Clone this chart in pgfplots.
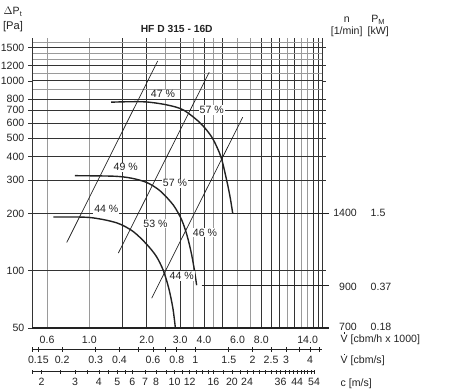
\documentclass[border=0pt]{standalone}
\usepackage{pgfplots}
\pgfplotsset{compat=1.18}
\usepackage{fontspec}
\setmainfont{Liberation Sans}
\definecolor{gridDark}{HTML}{333333}
\definecolor{gridGray}{HTML}{9A9A9A}
\definecolor{ink}{HTML}{222222}
\newcommand{\Vdot}{\makebox[0pt][l]{\hspace{0.27em}\smash{\raisebox{0.8em}{\rule{0.13em}{0.13em}}}}V}
\begin{document}
\fontsize{10.6}{12}\selectfont
\begin{tikzpicture}
\useasboundingbox (-32bp,-61bp) rectangle (428bp,328bp);
\begin{axis}[
  at={(0,0)}, anchor=south west,
  scale only axis, width=290bp, height=290bp,
  xmode=log, ymode=log,
  xmin=0.5, xmax=16.66, ymin=50, ymax=1683,
  axis line style={draw=none},
  clip=false,
  /pgf/number format/assume math mode=true,
  tick label style={font=\fontsize{10.6}{12}\selectfont, text=ink},
  xtick={1.5,2,3,4,5,8,9,10,12,15,16},
  xticklabels={},
  minor xtick={0.6,1,2.5,3.5,4.5,6,7,11,13,14},
  extra x ticks={0.6,1,2,3,4,6,8,14},
  extra x tick labels={0.6,1.0,2.0,3.0,4.0,6.0,8.0,14.0},
  extra x tick style={grid=none, major tick length=0pt},
  x tick style={draw=none},
  minor x tick style={draw=none},
  xticklabel style={yshift=-4.5bp},
  ytick={50,100,200,300,400,500,600,700,800,1000,1200,1500},
  yticklabels={50,100,200,300,400,500,600,700,800,1000,1200,1500},
  minor ytick={900,1100,1300,1400,1600},
  y tick style={gridDark, line width=0.8pt},
  minor y tick style={draw=none},
  tick align=outside,
  major tick length=4bp,
  grid=both,
  major grid style={gridDark, line width=0.85pt},
  minor grid style={gridGray, line width=0.85pt},
]
% frame lines
\draw[gridDark, line width=0.9pt] (rel axis cs:0,0) -- (rel axis cs:0,1);
\draw[gridDark, line width=0.9pt] (rel axis cs:1,0) -- (rel axis cs:1,1);
\addplot[ink, line width=1.6pt] coordinates {(0.5,50) (18.1,50)};

% efficiency lines
\addplot[ink, line width=0.7pt] coordinates {(0.761,141) (2.286,1274)};
\addplot[ink, line width=0.7pt] coordinates {(1.42,124) (4.26,1111)};
\addplot[ink, line width=0.7pt] coordinates {(2.126,71.8) (6.39,644)};

% fan curves
\addplot[ink, line width=1.4pt, smooth] coordinates {
 (1.30,773) (1.6,777) (2.0,775) (2.55,748) (3.11,704) (3.81,602)
 (4.40,505) (4.90,400) (5.23,308) (5.47,248) (5.66,201)};
\addplot[ink, line width=1.4pt, smooth] coordinates {
 (0.84,317) (1.34,315) (1.65,308) (2.0,292) (2.35,264) (2.76,222)
 (3.05,186) (3.25,155) (3.42,126) (3.55,103) (3.66,84)};
\addplot[ink, line width=1.4pt, smooth] coordinates {
 (0.647,192) (1.0,191) (1.39,179) (1.70,161) (2.0,138) (2.25,119)
 (2.45,100) (2.62,80) (2.75,63) (2.83,50)};

% speed lines to the right
\addplot[ink, line width=0.9pt] coordinates {(5.66,200) (18.1,200)};
\addplot[ink, line width=0.9pt] coordinates {(3.89,83.7) (18.1,83.7)};

% efficiency labels
\tikzset{eff/.style={fill=white, inner sep=1bp, text=ink, font=\fontsize{10.6}{12}\selectfont}}
\node[eff] at (axis cs:2.437,851) {47 \%};
\node[eff] at (axis cs:4.39,703) {57 \%};
\node[eff] at (axis cs:1.553,351) {49 \%};
\node[eff] at (axis cs:2.818,289) {57 \%};
\node[eff] at (axis cs:1.228,212) {44 \%};
\node[eff] at (axis cs:2.226,177) {53 \%};
\node[eff] at (axis cs:4.05,159) {46 \%};
\node[eff] at (axis cs:3.055,94.1) {44 \%};
\end{axis}

% flow scale in cbm/s
\begin{axis}[
  at={(0,-21.3bp)}, anchor=south west,
  scale only axis, width=290bp, height=1bp,
  xmode=log, xmin=0.1389, xmax=4.628, ymin=0, ymax=1,
  axis x line*=bottom, hide y axis,
  axis line style={ink, line width=0.7pt},
  x axis line style={-},
  tick label style={font=\fontsize{10.6}{12}\selectfont, text=ink},
  xtick={0.1389,0.15,0.2,0.3,0.4,0.5,0.6,0.7,0.8,1,1.5,2,2.5,3,3.5,4,4.5},
  xticklabels={,0.15,0.2,0.3,0.4,,0.6,,0.8,1,1.5,2,2.5,3,,4,},
  minor xtick={},
  tick align=center, major tick length=5bp,
  x tick style={ink, line width=0.7pt},
  xticklabel style={yshift=-0.5bp},
]
\addplot[draw=none] coordinates {(1,0.5)};
\end{axis}

% velocity scale in m/s
\begin{axis}[
  at={(0,-43.7bp)}, anchor=south west,
  scale only axis, width=283bp, height=1bp,
  xmode=log, xmin=1.783, xmax=54.6, ymin=0, ymax=1,
  axis x line*=bottom, hide y axis,
  axis line style={ink, line width=0.7pt},
  x axis line style={-},
  tick label style={font=\fontsize{10.6}{12}\selectfont, text=ink},
  xtick={1.783,2,2.5,3,3.5,4,4.5,5,5.5,6,7,8,9,10,11,12,13,14,15,16,18,20,22,24,26,28,30,32,34,36,38,40,42,44,46,48,50,52,54},
  xticklabels={,2,,3,,4,,5,,6,7,8,,10,,12,,,,16,,20,,24,,,,,,36,,,,44,,,,,54},
  tick align=center, major tick length=4bp,
  x tick style={ink, line width=0.6pt},
  xticklabel style={yshift=-0.5bp},
]
\addplot[draw=none] coordinates {(10,0.5)};
\end{axis}

% texts around
\tikzset{side/.style={text=ink, inner sep=0.5bp}}
\node[text=ink, font=\fontsize{10.3}{12}\bfseries] at (144.7bp,299bp) {HF D 315 - 16D};
\node[side] at (-19bp,316bp) {$\Delta$P\textsubscript{t}};
\node[side, font=\fontsize{11.2}{12}\selectfont] at (-19bp,301bp) {[Pa]};
\node[side] at (314.7bp,308bp) {n};
\node[side] at (314.7bp,296.3bp) {[1/min]};
\node[side] at (346.3bp,308bp) {P\textsubscript{M}};
\node[side] at (346.3bp,296.3bp) {[kW]};
\node[side, anchor=east] at (325.5bp,115bp) {1400};
\node[side, anchor=west] at (338bp,115bp) {1.5};
\node[side, anchor=east] at (325.5bp,41.3bp) {900};
\node[side, anchor=west] at (338bp,41.3bp) {0.37};
\node[side, anchor=east] at (325.5bp,1.2bp) {700};
\node[side, anchor=west] at (338bp,1.2bp) {0.18};
\node[side, anchor=west] at (308bp,-11.5bp) {\Vdot{} [cbm/h x 1000]};
\node[side, anchor=west] at (308bp,-32.7bp) {\Vdot{} [cbm/s]};
\node[side, anchor=west] at (308bp,-55.3bp) {c [m/s]};
\end{tikzpicture}
\end{document}
